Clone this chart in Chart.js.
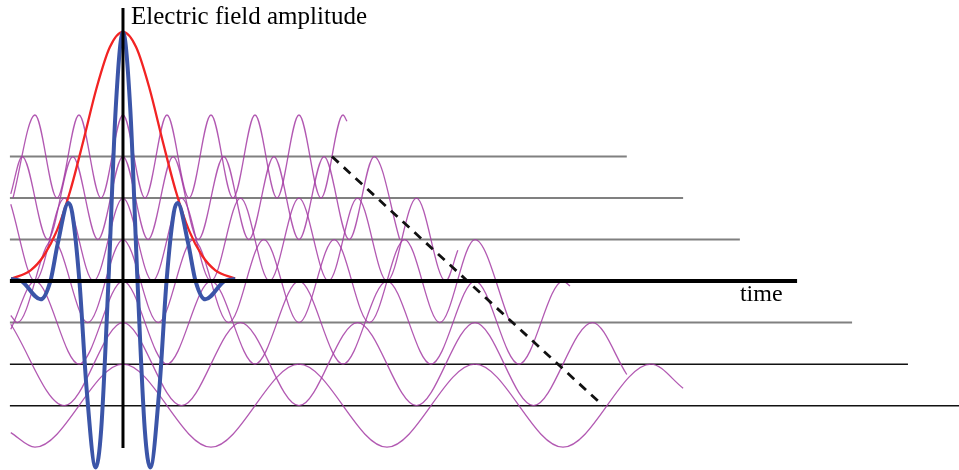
<!DOCTYPE html>
<html>
<head>
<meta charset="utf-8">
<script src="https://cdn.jsdelivr.net/npm/chart.js@4/dist/chart.umd.min.js"></script>
<style>
  html, body { margin: 0; padding: 0; background: #fff; }
  canvas { display: block; }
</style>
</head>
<body>
<canvas id="pulseChart" width="959" height="470"></canvas>
<script>
// Baseline level of each frequency component (top = highest frequency)
const waveLevels = [3, 2, 1, 0, -1, -2, -3];
// Time where each baseline stops on the right
const baselineEnds = [114.5, 127.3, 140.2, 153.2, 165.7, 178.4, 190];
const baselineStart = -25.7;

// Times of the crests/troughs read on each purple wave (plus its two ends)
const waveTimes = [
    [-25, -20, -15, -10, -5, 0, 5, 10, 15, 20, 25, 30, 35, 40, 45, 50, 50.9],
    [-25.5, -22.9, -17.1, -11.4, -5.7, 0, 5.7, 11.4, 17.1, 22.9, 28.6, 34.3, 40, 45.7, 51.4, 57.1, 62.9],
    [-25.5, -20, -13.3, -6.7, 0, 6.7, 13.3, 20, 26.7, 33.3, 40, 46.7, 53.3, 60, 66.7, 73.3, 76.1],
    [-25.5, -24, -16, -8, 0, 8, 16, 24, 32, 40, 48, 56, 64, 72, 80, 88],
    [-25.5, -20, -10, 0, 10, 20, 30, 40, 50, 60, 70, 80, 90, 100, 101.6],
    [-25.5, -13.3, 0, 13.3, 26.7, 40, 53.3, 66.7, 80, 93.3, 106.7, 114.5],
    [-25.5, -20, 0, 20, 40, 60, 80, 100, 120, 127.3]
];
// Field value of each wave at those times, relative to its baseline
const waveValues = [
    [-1, 1, -1, 1, -1, 1, -1, 1, -1, 1, -1, 1, -1, 1, -1, 1, 0.85],
    [0.1, 1, -1, 1, -1, 1, -1, 1, -1, 1, -1, 1, -1, 1, -1, 1, -1],
    [0.85, -1, 1, -1, 1, -1, 1, -1, 1, -1, 1, -1, 1, -1, 1, -1, -0.26],
    [-0.83, -1, 1, -1, 1, -1, 1, -1, 1, -1, 1, -1, 1, -1, 1, -1],
    [-0.16, 1, -1, 1, -1, 1, -1, 1, -1, 1, -1, 1, -1, 1, 0.88],
    [0.96, -1, 1, -1, 1, -1, 1, -1, 1, -1, 1, -0.25],
    [-0.65, -1, 1, -1, 1, -1, 1, -1, 1, 0.42]
];

// Red envelope of the pulse
const envelopeTimes = [-25.3, -21, -18, -15, -12, -9, -6, -3, 0, 3, 6, 9, 12, 15, 18, 21, 25.5];
const envelopeValues = [0.06, 0.26, 0.61, 1.22, 2.17, 3.38, 4.65, 5.63, 6, 5.63, 4.65, 3.38, 2.17, 1.22, 0.61, 0.26, 0.06];

// Blue resulting pulse (sum of the components)
const pulseTimes = [-25.5, -23.1, -18.7, -16.5, -14.85, -12.4, -11.55, -9.9, -8.25, -6.2, -4.95, -3.3, -1.65, 0,
    1.65, 3.3, 4.95, 6.2, 8.25, 9.9, 11.55, 12.4, 14.85, 16.5, 18.7, 23.1, 25.5];
const pulseValues = [0.05, 0, -0.44, 0, 0.89, 1.88, 1.65, 0, -2.62, -4.49, -3.57, 0, 4.16, 6,
    4.16, 0, -3.57, -4.49, -2.62, 0, 1.65, 1.88, 0.89, 0, -0.44, 0, 0.05];

// Dashed line joining the components
const dashTimes = [47.5, 109.1];
const dashLevels = [3, -3];

// Vertical axis extent
const axisBottom = -4.02;
const axisTop = 6.58;

const axisTitle = 'Electric field amplitude';
const timeLabel = 'time';

function toPoints(xs, ys, offset) {
    return xs.map((x, i) => ({ x: x, y: ys[i] + (offset || 0) }));
}

const datasets = [];

// axes on top
datasets.push({
    data: [{ x: 0, y: axisBottom }, { x: 0, y: axisTop }],
    borderColor: '#000', borderWidth: 3, order: 0
});

datasets.push({
    data: toPoints(pulseTimes, pulseValues),
    borderColor: '#3b55a8', borderWidth: 4, cubicInterpolationMode: 'monotone', order: 1
});

datasets.push({
    data: toPoints(envelopeTimes, envelopeValues),
    borderColor: '#f22323', borderWidth: 2.3, cubicInterpolationMode: 'monotone', order: 2
});

datasets.push({
    data: toPoints(dashTimes, dashLevels),
    borderColor: '#111', borderWidth: 2.8, borderDash: [9, 7], order: 3
});

waveTimes.forEach((times, k) => {
    datasets.push({
        data: toPoints(times, waveValues[k], waveLevels[k]),
        borderColor: 'rgba(165, 60, 165, 0.85)', borderWidth: 1.3,
        cubicInterpolationMode: 'monotone', order: 4
    });
});

waveLevels.forEach((level, k) => {
    let color = '#808080', width = 2;
    if (level === 0) { color = '#000'; width = 4; }
    else if (level < -1) { color = '#111'; width = 1.5; }
    datasets.push({
        data: [{ x: baselineStart, y: level }, { x: baselineEnds[k], y: level }],
        borderColor: color, borderWidth: width, order: level === 0 ? 0 : 5
    });
});

const labelPlugin = {
    id: 'labels',
    afterDraw(chart) {
        const ctx = chart.ctx;
        const x = chart.scales.x, y = chart.scales.y;
        ctx.save();
        ctx.fillStyle = '#000';
        ctx.font = '25px "Liberation Serif", "Times New Roman", serif';
        ctx.textBaseline = 'alphabetic';
        ctx.fillText(axisTitle, x.getPixelForValue(0) + 8, y.getPixelForValue(6.2));
        ctx.font = '24px "Liberation Serif", "Times New Roman", serif';
        ctx.fillText(timeLabel, x.getPixelForValue(140.2), y.getPixelForValue(-0.48));
        ctx.restore();
    }
};

new Chart(document.getElementById('pulseChart'), {
    type: 'line',
    data: { datasets: datasets },
    options: {
        responsive: false,
        animation: false,
        devicePixelRatio: 1,
        layout: { padding: 0 },
        elements: { point: { radius: 0, hoverRadius: 0 }, line: { tension: 0, fill: false } },
        plugins: { legend: { display: false }, tooltip: { enabled: false } },
        scales: {
            x: { type: 'linear', min: -27.95, max: 190, display: false },
            y: { type: 'linear', min: -4.55, max: 6.77, display: false }
        }
    },
    plugins: [labelPlugin]
});
</script>
</body>
</html>
